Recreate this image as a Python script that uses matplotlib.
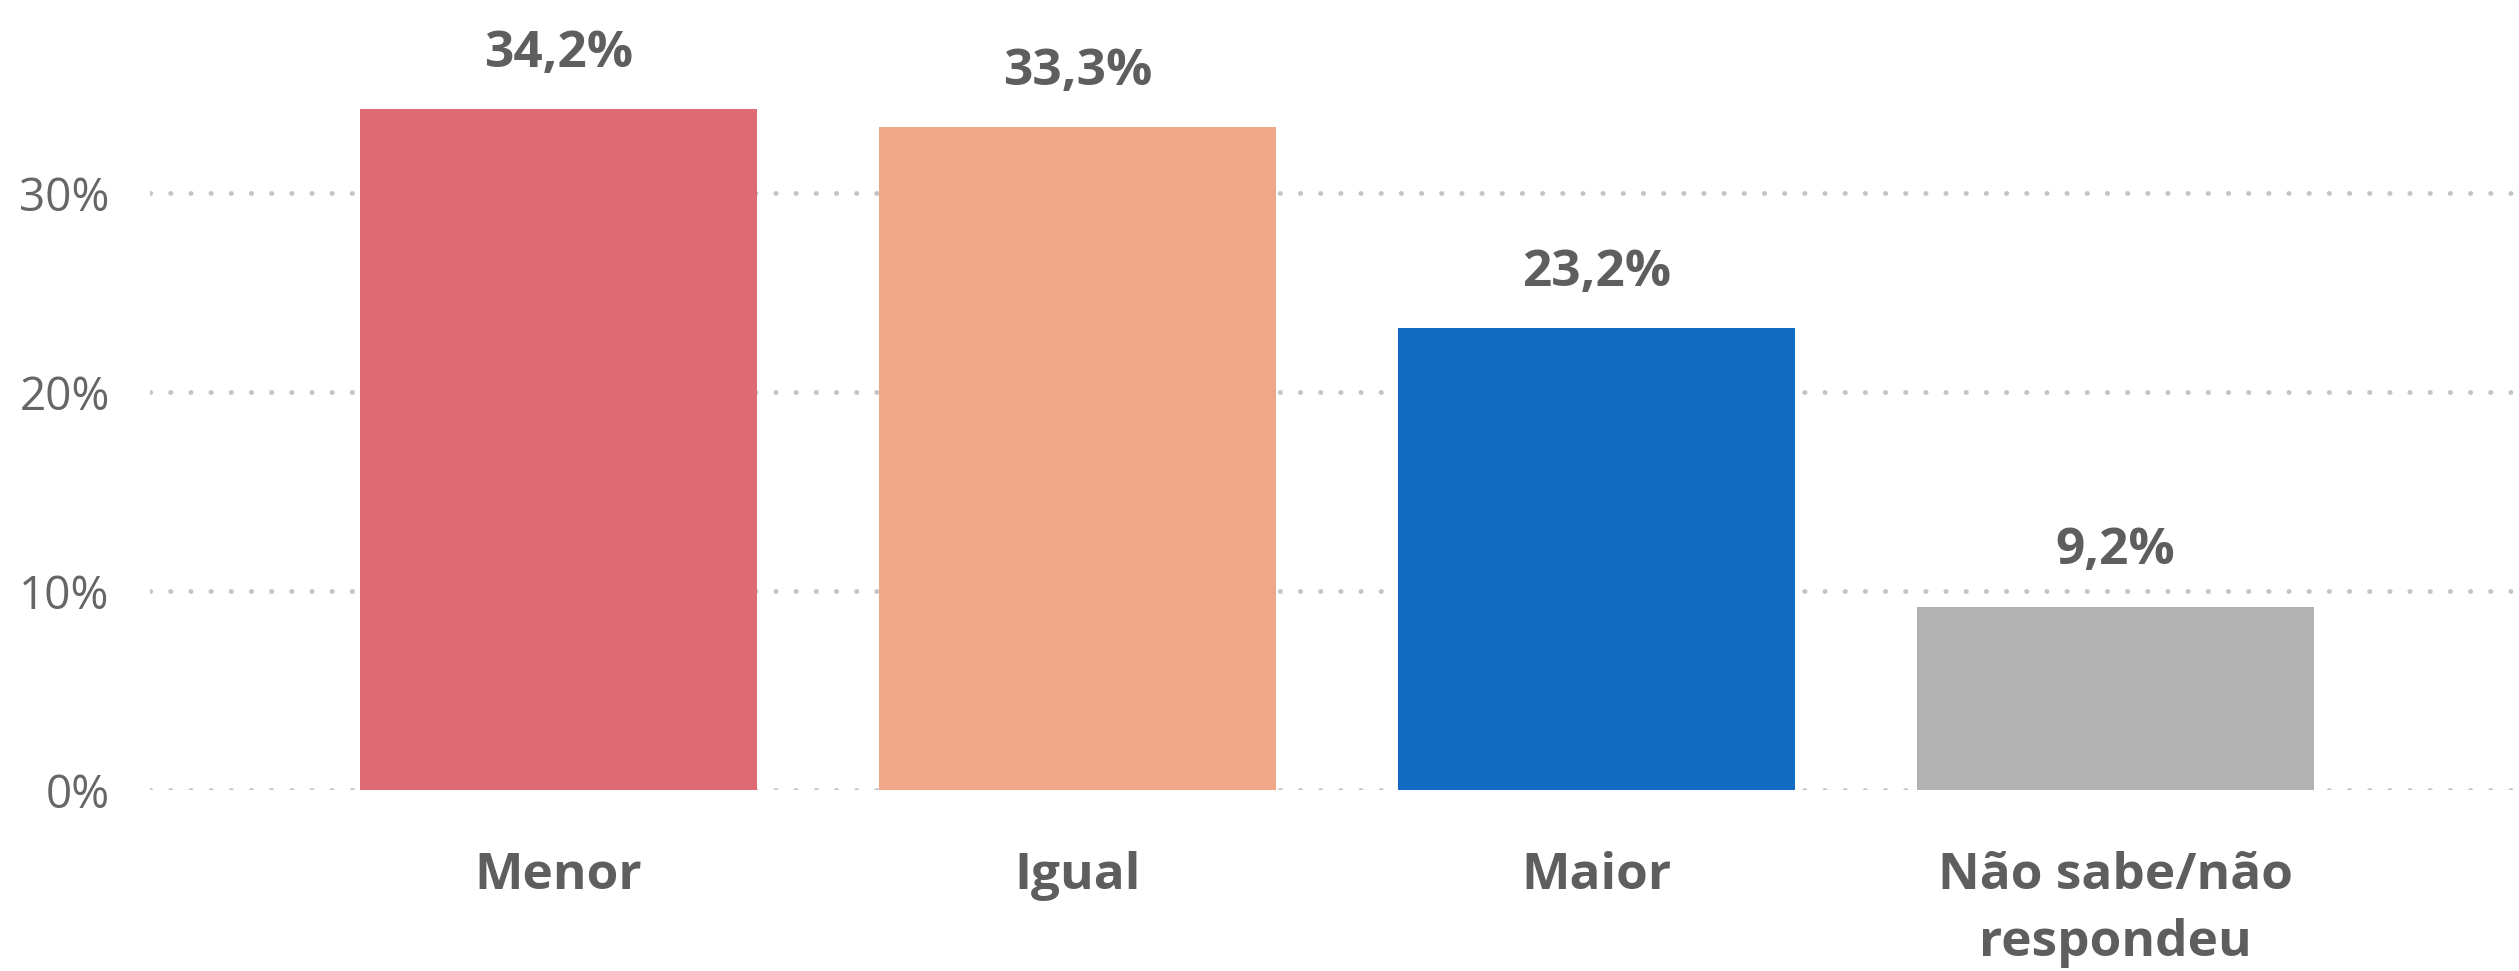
import matplotlib
matplotlib.use("Agg")
import matplotlib.pyplot as plt

# Survey answers and their shares (%)
categories = ["Menor", "Igual", "Maior", "Não sabe/não\nrespondeu"]
values = [34.2, 33.3, 23.2, 9.2]
value_labels = ["34,2%", "33,3%", "23,2%", "9,2%"]
bar_colors = ["#DF6A73", "#EFA788", "#0F6CC2", "#B2B2B2"]
yticks = [0, 10, 20, 30]
ytick_labels = ["0%", "10%", "20%", "30%"]

plt.rcParams["font.family"] = ["Open Sans", "DejaVu Sans"]
text_color = "#5E5E5E"

fig = plt.figure(figsize=(25.19, 9.71), dpi=100)
ax = fig.add_axes([150 / 2519, 1 - 790 / 971, 1 - 150 / 2519, 790 / 971])

x = list(range(len(categories)))
bars = ax.bar(x, values, width=0.765, color=bar_colors, zorder=2)

for rect, lab in zip(bars, value_labels):
    ax.annotate(lab, (rect.get_x() + rect.get_width() / 2, rect.get_height()),
                xytext=(0, 22), textcoords="offset points",
                ha="center", va="bottom", fontsize=37, fontweight="bold",
                color=text_color)

ax.set_xlim(-0.787, 3.777)
ax.set_ylim(0, 39.7)

ax.set_yticks(yticks)
ax.set_yticklabels(ytick_labels, fontsize=33, color="#666666")
ax.set_xticks(x)
ax.set_xticklabels(categories, fontsize=37, fontweight="bold", color=text_color,
                   linespacing=1.45)
ax.tick_params(axis="y", length=0, pad=29)
ax.tick_params(axis="x", length=0, pad=44)

ax.grid(axis="y", color="#C4C4C4", linestyle=(0, (0.05, 4.1)), linewidth=3.5,
        dash_capstyle="round", zorder=1)
ax.set_axisbelow(True)
for s in ax.spines.values():
    s.set_visible(False)

fig.savefig("out.png", dpi=100, facecolor="white")
